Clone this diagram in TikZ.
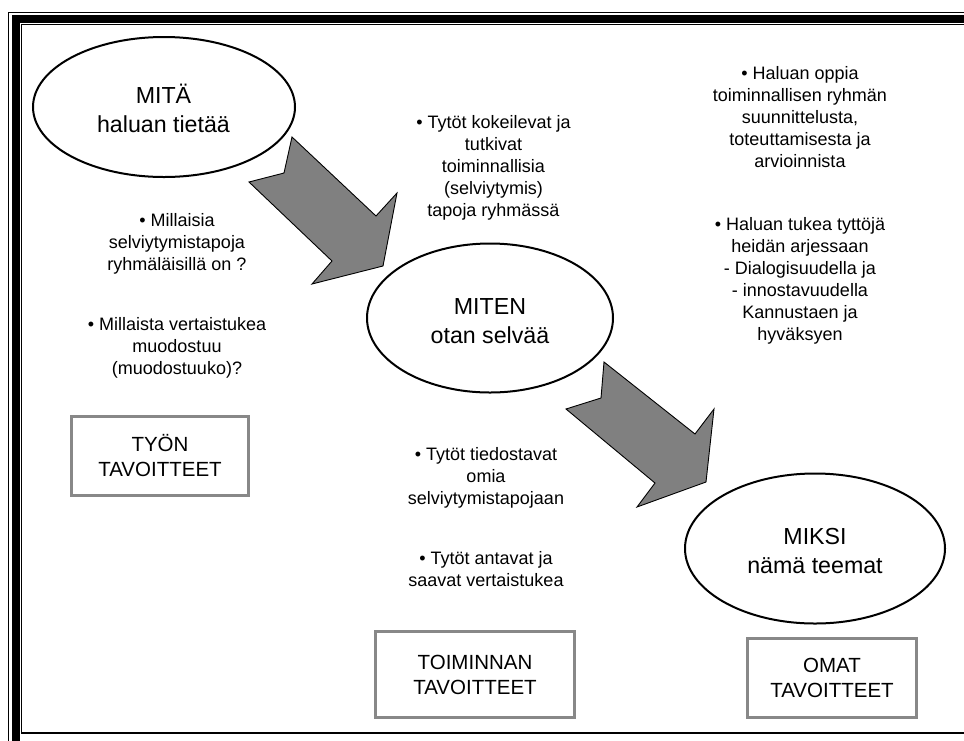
\documentclass[tikz,border=0pt]{standalone}
\usepackage{fontspec}
\setmainfont{Liberation Sans}
\usetikzlibrary{shapes.geometric}
\definecolor{boxgray}{HTML}{888888}
\definecolor{arrowgray}{HTML}{808080}
\tikzset{
  bodyline/.style={anchor=base, font=\fontsize{18}{22}\selectfont, inner sep=0pt},
  ellline/.style={anchor=base, font=\fontsize{23.2}{29}\selectfont, inner sep=0pt},
  oval/.style={draw=black, line width=2pt, ellipse, inner sep=0pt, outer sep=0pt},
  goalbox/.style={draw=boxgray, line width=3pt, rectangle, inner sep=0pt, outer sep=0pt, align=center, font=\fontsize{20.5}{25}\selectfont},
  bigarrow/.style={fill=arrowgray, draw=black, line width=0.9pt, line join=miter},
  framethin/.style={draw=black, line width=1.6pt},
  framethick/.style={draw=black, line width=7.5pt},
}
\begin{document}
\begin{tikzpicture}[x=1pt,y=-1pt]
\useasboundingbox (0,0) rectangle (964,740);
\begin{scope}
\clip (0,0) rectangle (964,740);
\draw[framethin] (8.5,12.5) rectangle (1000,760);
\draw[framethick] (15.75,18.75) rectangle (990,755);
\draw[framethin] (21.5,24.5) rectangle (980,733);
\end{scope}

% ellipses
\node[oval, minimum width=262, minimum height=140] (mita) at (164,107) {};
\node[ellline] (mita1) at (163.5,103) {MITÄ};
\node[ellline] (mita2) at (163.5,132) {haluan tietää};
\node[oval, minimum width=246, minimum height=149] (miten) at (490,318) {};
\node[ellline] (miten1) at (490,314) {MITEN};
\node[ellline] (miten2) at (490,343) {otan selvää};
\node[oval, minimum width=260, minimum height=150] (miksi) at (815,548.5) {};
\node[ellline] (miksi1) at (815,544.5) {MIKSI};
\node[ellline] (miksi2) at (815,573.5) {nämä teemat};

% arrows
\draw[bigarrow] (292,137) -- (376,216) -- (397,193) -- (383,266) -- (312,284) -- (332,261) -- (249,182) -- (284,173) -- cycle;
\draw[bigarrow] (604,362) -- (695,434) -- (714,409) -- (706,482) -- (637,507) -- (655,483) -- (566,409) -- (601,398) -- cycle;

% boxes
\node[goalbox, minimum width=177, minimum height=79] (tyon) at (160,456) {TYÖN\\TAVOITTEET};
\node[goalbox, minimum width=199, minimum height=86] (toim) at (475,674.5) {TOIMINNAN\\TAVOITTEET};
\node[goalbox, minimum width=169, minimum height=79] (omat) at (832,678) {OMAT\\TAVOITTEET};

% text blocks, one node per line
\foreach \t [count=\i] in {• Millaisia, selviytymistapoja, ryhmäläisillä on ?}
  \node[bodyline] (a\i) at (177,{226+22*(\i-1)}) {\t};
\foreach \t [count=\i] in {• Millaista vertaistukea, muodostuu, (muodostuuko)?}
  \node[bodyline] (b\i) at (177,{330+22*(\i-1)}) {\t};
\foreach \t [count=\i] in {• Tytöt kokeilevat ja, tutkivat, toiminnallisia, (selviytymis), tapoja ryhmässä}
  \node[bodyline] (c\i) at (493.5,{128+22*(\i-1)}) {\t};
\foreach \t [count=\i] in {• Haluan oppia, toiminnallisen ryhmän, {suunnittelusta,}, toteuttamisesta ja, arvioinnista}
  \node[bodyline] (d\i) at (800,{79+22*(\i-1)}) {\t};
\foreach \t [count=\i] in {• Haluan tukea tyttöjä, heidän arjessaan, - Dialogisuudella ja, - innostavuudella, Kannustaen ja, hyväksyen}
  \node[bodyline] (e\i) at (800,{230+22*(\i-1)}) {\t};
\foreach \t [count=\i] in {• Tytöt tiedostavat, omia, selviytymistapojaan}
  \node[bodyline] (f\i) at (486,{460+22*(\i-1)}) {\t};
\foreach \t [count=\i] in {• Tytöt antavat ja, saavat vertaistukea}
  \node[bodyline] (g\i) at (486,{564+22*(\i-1)}) {\t};
\end{tikzpicture}
\end{document}
